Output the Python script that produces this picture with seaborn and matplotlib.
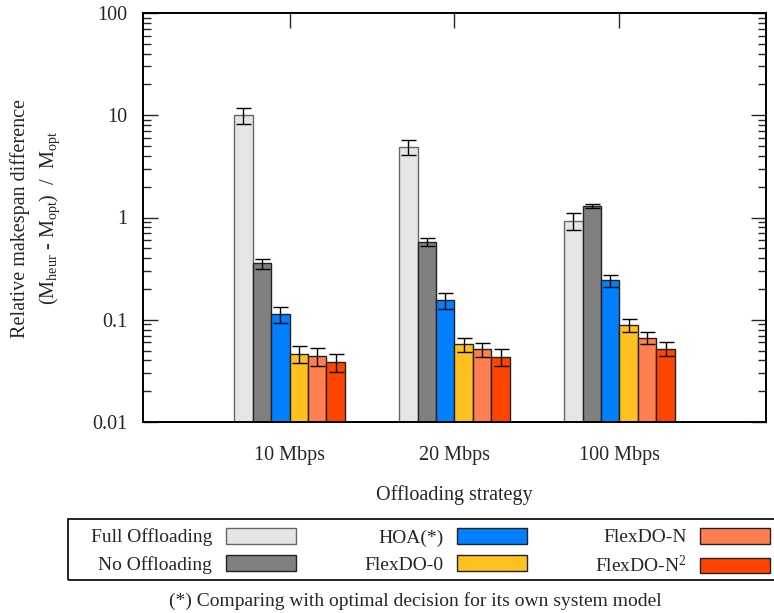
import numpy as np
import pandas as pd
import seaborn as sns
import matplotlib
matplotlib.use("Agg")
from matplotlib import pyplot as plt
from matplotlib.patches import Rectangle
from matplotlib.ticker import FixedLocator, FuncFormatter, LogLocator, NullFormatter

# data (log scale)
BANDWIDTHS = ["10 Mbps", "20 Mbps", "100 Mbps"]
STRATEGIES = ["Full Offloading", "No Offloading", "HOA(*)",
              "FlexDO-0", "FlexDO-N", "FlexDO-N$^2$"]

full_off  = [10.0, 4.9, 0.93]
no_off    = [0.356, 0.575, 1.29]
hoa       = [0.113, 0.155, 0.243]
flexdo_0  = [0.0465, 0.0573, 0.0887]
flexdo_n  = [0.0442, 0.0512, 0.0666]
flexdo_n2 = [0.0385, 0.0434, 0.0520]

full_err  = [1.7, 0.8, 0.17]
no_err    = [0.04, 0.05, 0.06]
hoa_err   = [0.02, 0.027, 0.033]
f0_err    = [0.0085, 0.0087, 0.012]
fn_err    = [0.0086, 0.0083, 0.009]
fn2_err   = [0.008, 0.0079, 0.008]

COLORS = ["#e5e5e5", "#808080", "#0080ff", "#ffc020", "#ff7f50", "#ff4500"]
EDGES  = ["#666666", "#222222", "#222222", "#222222", "#222222", "#222222"]

values = [full_off, no_off, hoa, flexdo_0, flexdo_n, flexdo_n2]
errors = [full_err, no_err, hoa_err, f0_err, fn_err, fn2_err]

rows = []
for strat, vals in zip(STRATEGIES, values):
    for bw, v in zip(BANDWIDTHS, vals):
        rows.append({"bandwidth": bw, "strategy": strat, "value": v})
df = pd.DataFrame(rows)

sns.set_style("ticks")
plt.rcParams["font.family"] = ["Liberation Serif", "DejaVu Serif"]
plt.rcParams["mathtext.fontset"] = "custom"
plt.rcParams["mathtext.rm"] = "Liberation Serif"
plt.rcParams["mathtext.it"] = "Liberation Serif:italic"
plt.rcParams["font.size"] = 14

fig = plt.figure(figsize=(7.74, 6.13), dpi=100)
ax = fig.add_axes([143 / 774, 1 - 422 / 613, (766 - 143) / 774, (422 - 13) / 613])
ax.set_yscale("log")

sns.barplot(data=df, x="bandwidth", y="value", hue="strategy",
            hue_order=STRATEGIES, order=BANDWIDTHS, palette=COLORS,
            width=0.67, gap=0, errorbar=None, legend=False,
            edgecolor="#222222", linewidth=1.0, saturation=1, ax=ax)

# error bars at the centre of each seaborn bar
for container, err, ec in zip(ax.containers, errors, EDGES):
    for p in container:
        p.set_edgecolor(ec)
    xs = [p.get_x() + p.get_width() / 2 for p in container]
    ys = [p.get_height() for p in container]
    ax.errorbar(xs, ys, yerr=err, fmt="none", ecolor="black",
                elinewidth=1.0, capsize=5.4, capthick=1.0, zorder=5)

ax.set_xlim(-0.888, 2.888)
ax.set_ylim(0.01, 100)
ax.yaxis.set_major_locator(FixedLocator([0.01, 0.1, 1, 10, 100]))
ax.yaxis.set_major_formatter(FuncFormatter(lambda v, p: "%g" % v))
ax.yaxis.set_minor_locator(LogLocator(base=10, subs=np.arange(2, 10)))
ax.yaxis.set_minor_formatter(NullFormatter())

ax.tick_params(axis="y", which="major", direction="in", length=11, width=1,
               right=True, pad=11, labelsize=14.5)
ax.tick_params(axis="y", which="minor", direction="in", length=6, width=1,
               right=True)
ax.tick_params(axis="x", direction="in", length=11, width=1,
               bottom=False, top=True, pad=17, labelsize=14.5)

for sp in ax.spines.values():
    sp.set_visible(True)
    sp.set_linewidth(1.4)
    sp.set_color("black")

ax.set_xlabel("")
ax.set_ylabel("")
fig.text(454 / 774, 1 - 495 / 613, "Offloading strategy", ha="center",
         va="center", fontsize=14.5)
fig.text(20 / 774, 1 - 218 / 613, "Relative makespan difference",
         rotation=90, ha="center", va="center", fontsize=14.5)
fig.text(50 / 774, 1 - 218 / 613,
         r"(M$_\mathrm{heur}$ - M$_\mathrm{opt}$)  /  M$_\mathrm{opt}$",
         rotation=90, ha="center", va="center", fontsize=14.5)

# legend: frame drawn separately, entries text-then-box
handles = [Rectangle((0, 0), 1, 1, facecolor=c, edgecolor=e, linewidth=1.0)
           for c, e in zip(COLORS, EDGES)]
fig.add_artist(Rectangle((68 / 774, 1 - 580 / 613), 740 / 774, 61 / 613,
                         transform=fig.transFigure, fill=False,
                         edgecolor="black", linewidth=1.2))
fig.legend(handles, STRATEGIES, ncol=3, loc="upper left",
           bbox_to_anchor=(91 / 774, 1 - 528 / 613), frameon=False,
           markerfirst=False, fontsize=14, handlelength=3.6,
           handleheight=0.85, handletextpad=0.7, columnspacing=3.5,
           labelspacing=0.45, borderpad=0, borderaxespad=0)

fig.text(415 / 774, 1 - 601 / 613,
         "(*) Comparing with optimal decision for its own system model",
         ha="center", va="center", fontsize=14)

fig.savefig("out.png", dpi=100)
